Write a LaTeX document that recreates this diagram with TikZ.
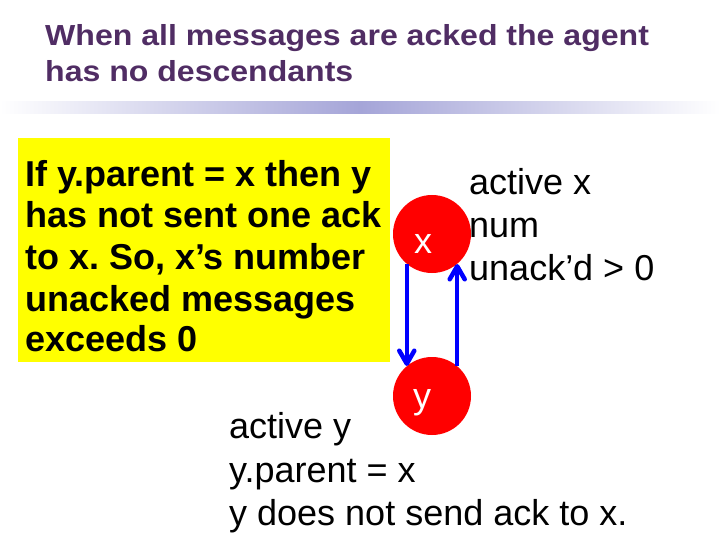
\documentclass[tikz,border=0pt]{standalone}
\usepackage{fontspec}
\setmainfont{Liberation Sans}
\newfontfamily\ttlfont[FakeStretch=1.105]{Liberation Sans}
\usetikzlibrary{arrows.meta}
\definecolor{ttl}{RGB}{80,45,100}
\definecolor{lav}{RGB}{165,165,216}
\definecolor{ybg}{RGB}{255,255,0}
\definecolor{rd}{RGB}{255,0,0}
\definecolor{bl}{RGB}{0,0,255}
\frenchspacing
\begin{document}
\begin{tikzpicture}[x=1pt,y=-1pt,
  ttlline/.style={anchor=base west, inner sep=0, text=ttl, font=\ttlfont\fontsize{29}{36}\selectfont\bfseries},
  boxline/.style={anchor=base west, inner sep=0, font=\fontsize{36}{42}\selectfont\bfseries},
  txtline/.style={anchor=base west, inner sep=0, font=\fontsize{36}{42}\selectfont},
  agent/.style={circle, fill=rd, minimum size=78pt, inner sep=0},
  agentlbl/.style={anchor=base, inner sep=0, text=white, font=\fontsize{36}{42}\selectfont},
  msg/.style={draw=bl, line width=4.5pt, -{Straight Barb[length=13pt,width=15pt,round]}}
]
\useasboundingbox (0,0) rectangle (720,540);
\fill[white] (0,0) rectangle (720,540);
% title
\node[ttlline] (t1) at (45,45.5) {When all messages are acked the agent};
\node[ttlline] (t2) at (45,82) {has no descendants};
\shade[left color=white, right color=white, middle color=lav] (0,102) rectangle (720,114);
% yellow note
\node[fill=ybg, minimum width=372pt, minimum height=224pt, anchor=north west, inner sep=0] (note) at (18,138) {};
\node[boxline] (n1) at (25,187) {If y.parent = x then y};
\node[boxline] (n2) at (25,228) {has not sent one ack};
\node[boxline] (n3) at (25,269.5) {to x. So, x’s number};
\node[boxline] (n4) at (25,311) {unacked messages};
\node[boxline] (n5) at (25,351) {exceeds 0};
% agents
\node[agent] (x) at (432,234) {};
\node[agent] (y) at (432,396) {};
\node[agentlbl] (xl) at (423,253) {x};
\node[agentlbl] (yl) at (422,408) {y};
\draw[msg] (x.-130.3) -- (y.130.3);
\draw[msg] (y.50.1) -- (x.-50.1);
% annotations
\node[txtline] (a1) at (469,195) {active x};
\node[txtline] (a2) at (469,237.5) {num};
\node[txtline] (a3) at (469,280) {unack’d > 0};
\node[txtline] (b1) at (229,438) {active y};
\node[txtline] (b2) at (229,482) {y.parent = x};
\node[txtline] (b3) at (229,525) {y does not send ack to x.};
\end{tikzpicture}
\end{document}
